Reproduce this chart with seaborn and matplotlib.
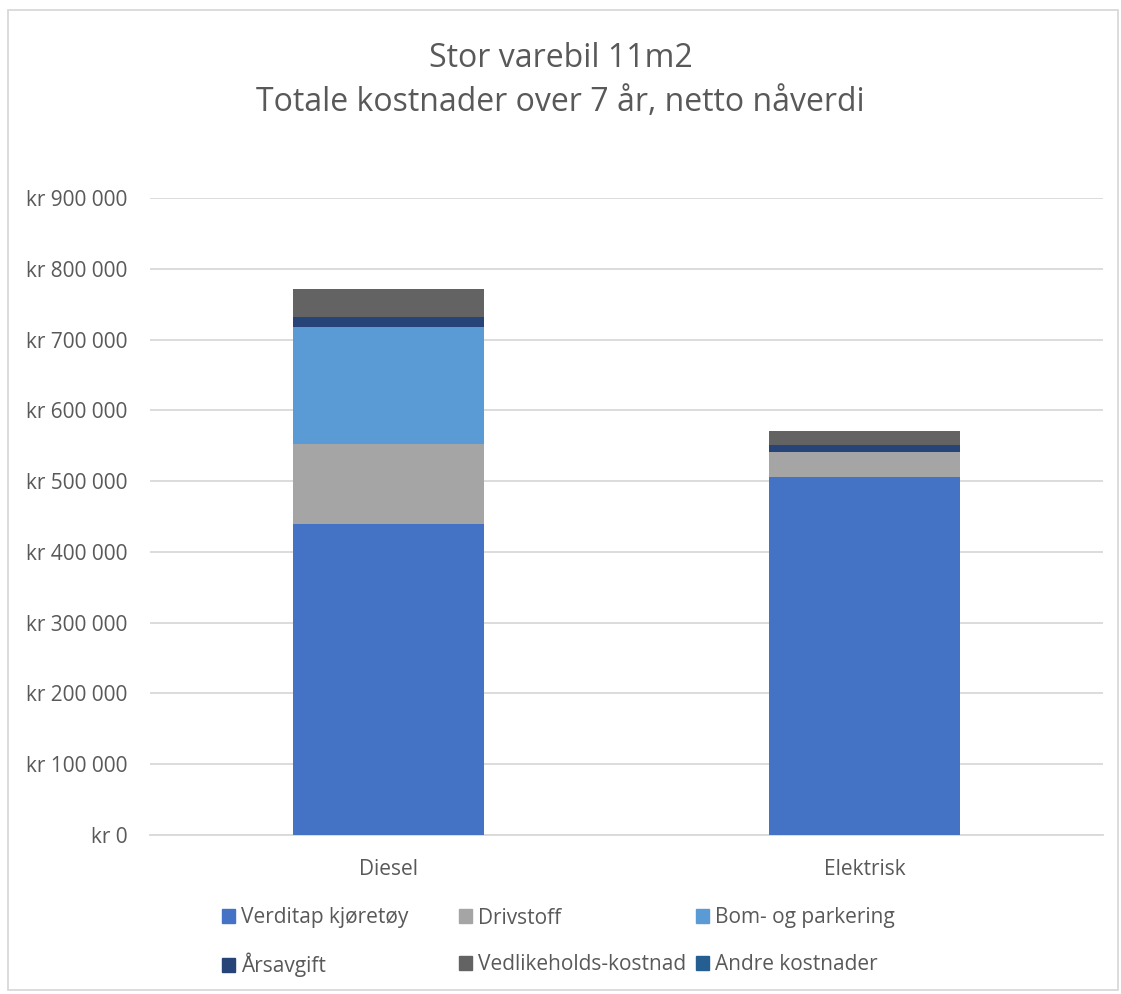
import matplotlib
matplotlib.use("Agg")
import matplotlib.pyplot as plt
import matplotlib.patches as mpatches
from matplotlib.ticker import FuncFormatter, MultipleLocator
import seaborn as sns
import numpy as np
import pandas as pd

categories = ["Diesel", "Elektrisk"]
series_names = ["Verditap kjøretøy", "Drivstoff", "Bom- og parkering",
                "Årsavgift", "Vedlikeholds-kostnad", "Andre kostnader"]
verditap = [439000, 506000]
drivstoff = [113000, 34500]
bom = [166000, 0]
arsavgift = [14000, 10500]
vedlikehold = [40000, 20000]
andre = [0, 0]
colors = ["#4472C4", "#A5A5A5", "#5B9BD5", "#264478", "#636363", "#255E91"]

sns.set_theme(style="white")
plt.rcParams["font.family"] = ["Open Sans", "DejaVu Sans"]
text_color = "#595959"

fig = plt.figure(figsize=(11.21, 9.94), dpi=100)
ax = fig.add_axes([0.1338, 0.16, 0.984 - 0.1338, 0.8008 - 0.16])

series = [verditap, drivstoff, bom, arsavgift, vedlikehold, andre]
bottom = np.zeros(len(categories))
for name, vals, col in zip(series_names, series, colors):
    df = pd.DataFrame({"cat": categories, "val": vals})
    sns.barplot(data=df, x="cat", y="val", color=col, bottom=bottom,
                width=0.4, ax=ax, saturation=1, errorbar=None, zorder=3,
                linewidth=0)
    bottom = bottom + np.array(vals)

ax.set_ylim(0, 900000)
ax.set_xlim(-0.5, 1.5)
ax.yaxis.set_major_locator(MultipleLocator(100000))
ax.yaxis.set_major_formatter(FuncFormatter(
    lambda v, p: "kr " + f"{int(v):,}".replace(",", " ")))
ax.grid(axis="y", color="#D9D9D9", linewidth=1.3, zorder=0)
ax.set_axisbelow(True)
for s in ["top", "right", "left"]:
    ax.spines[s].set_visible(False)
ax.spines["bottom"].set_color("#D9D9D9")
ax.spines["bottom"].set_linewidth(1.3)
ax.set_xlabel("")
ax.set_ylabel("")
ax.tick_params(axis="y", labelsize=15, colors=text_color, length=0, pad=16)
ax.tick_params(axis="x", labelsize=15, colors=text_color, length=0, pad=17)

fig.text(0.5, 0.941, "Stor varebil 11m2", ha="center", va="center",
         fontsize=23, color=text_color)
fig.text(0.5, 0.897, "Totale kostnader over 7 år, netto nåverdi", ha="center",
         va="center", fontsize=23, color=text_color)

handles = [mpatches.Patch(color=c, label=n) for n, c in zip(series_names, colors)]
col_x = [222 / 1121, 459 / 1121, 696 / 1121]
row_y = [1 - 918 / 994, 1 - 965 / 994]
for i, (h, n) in enumerate(zip(handles, series_names)):
    r, c = divmod(i, 3)
    leg = fig.legend([h], [n], loc="center left",
                     bbox_to_anchor=(col_x[c], row_y[r]),
                     frameon=False, fontsize=15, handlelength=0.62,
                     handleheight=0.62, handletextpad=0.3,
                     borderpad=0, borderaxespad=0)
    for t in leg.get_texts():
        t.set_color(text_color)

fig.patches.append(mpatches.Rectangle((0.007, 0.004), 0.99, 0.986,
                   transform=fig.transFigure, fill=False,
                   edgecolor="#D9D9D9", linewidth=1.3))

fig.savefig("out.png", dpi=100)
